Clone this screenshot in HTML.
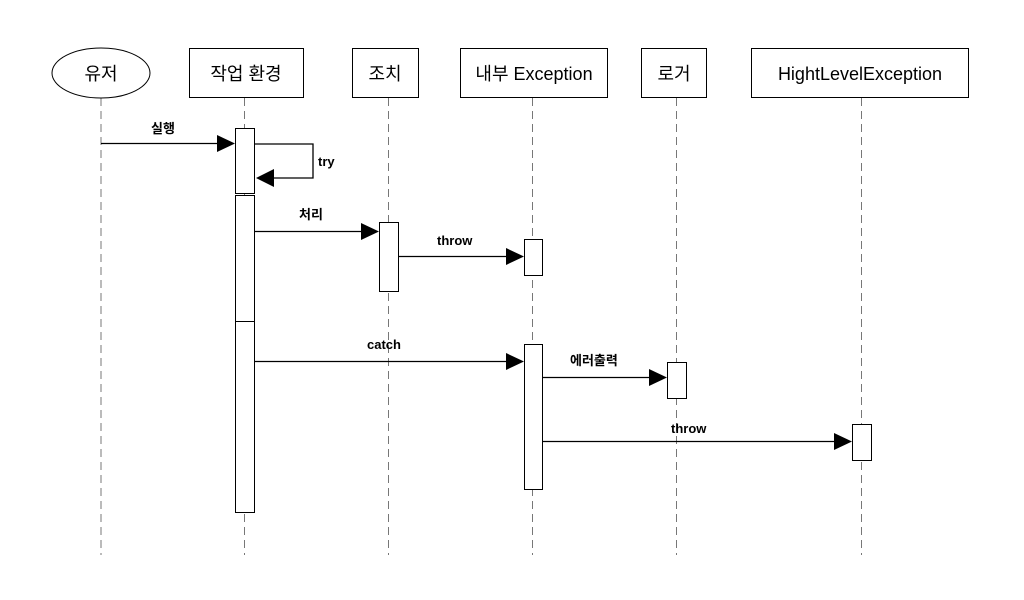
<!DOCTYPE html>
<html><head><meta charset="utf-8"><style>
html,body{margin:0;padding:0;background:#fff;}
svg{display:block;}
text{font-family:"Liberation Sans","Noto Sans CJK KR","NanumGothic",sans-serif;fill:#000;}
.h{font-size:18px;}
.l{font-size:13px;font-weight:bold;}
</style></head><body>
<svg width="1024" height="600" viewBox="0 0 1024 600" xmlns="http://www.w3.org/2000/svg">
<g stroke="#777" stroke-width="1" stroke-dasharray="8,5" fill="none">
<line x1="101" y1="98" x2="101" y2="555"/>
<line x1="244.5" y1="98" x2="244.5" y2="555"/>
<line x1="388.5" y1="98" x2="388.5" y2="555"/>
<line x1="532.5" y1="98" x2="532.5" y2="555"/>
<line x1="676.5" y1="98" x2="676.5" y2="555"/>
<line x1="861.5" y1="98" x2="861.5" y2="555"/>
</g>
<g stroke="#000" stroke-width="1" fill="#fff">
<ellipse cx="101" cy="73" rx="49" ry="25"/>
<rect x="189.5" y="48.5" width="114" height="49"/>
<rect x="352.5" y="48.5" width="66" height="49"/>
<rect x="460.5" y="48.5" width="147" height="49"/>
<rect x="641.5" y="48.5" width="65" height="49"/>
<rect x="751.5" y="48.5" width="217" height="49"/>
</g>
<g class="h" text-anchor="middle">
<text x="101" y="80" class="h">유저</text>
<text x="246" y="80" class="h">작업 환경</text>
<text x="385" y="80" class="h">조치</text>
<text x="534" y="80" class="h">내부 Exception</text>
<text x="674" y="80" class="h">로거</text>
<text x="860" y="80" class="h">HightLevelException</text>
</g>
<g stroke="#000" stroke-width="1" fill="#fff">
<rect x="235.5" y="128.5" width="19" height="65"/>
<rect x="235.5" y="195.5" width="19" height="126"/>
<rect x="235.5" y="321.5" width="19" height="191"/>
<rect x="379.5" y="222.5" width="19" height="69"/>
<rect x="524.5" y="239.5" width="18" height="36"/>
<rect x="524.5" y="344.5" width="18" height="145"/>
<rect x="667.5" y="362.5" width="19" height="36"/>
<rect x="852.5" y="424.5" width="19" height="36"/>
</g>
<g stroke="#000" stroke-width="1.3" fill="none">
<line x1="101" y1="143.5" x2="218" y2="143.5"/>
<polyline points="255,144 313,144 313,178 272,178" />
<line x1="255" y1="231.5" x2="362" y2="231.5"/>
<line x1="399" y1="256.5" x2="507" y2="256.5"/>
<line x1="255" y1="361.5" x2="507" y2="361.5"/>
<line x1="543" y1="377.5" x2="650" y2="377.5"/>
<line x1="543" y1="441.5" x2="835" y2="441.5"/>
</g>
<g fill="#000">
<polygon points="217,135 235,143.5 217,152"/>
<polygon points="274,169 256,178 274,187"/>
<polygon points="361,223 379,231.5 361,240"/>
<polygon points="506,248 524,256.5 506,265"/>
<polygon points="506,353 524,361.5 506,370"/>
<polygon points="649,369 667,377.5 649,386"/>
<polygon points="834,433 852,441.5 834,450"/>
</g>
<g class="l">
<text x="151" y="133" class="l">실행</text>
<text x="318" y="166" class="l">try</text>
<text x="299" y="219" class="l">처리</text>
<text x="437" y="245" class="l">throw</text>
<text x="367" y="349" class="l">catch</text>
<text x="570" y="365" class="l">에러출력</text>
<text x="671" y="433" class="l">throw</text>
</g>
</svg>
</body></html>
